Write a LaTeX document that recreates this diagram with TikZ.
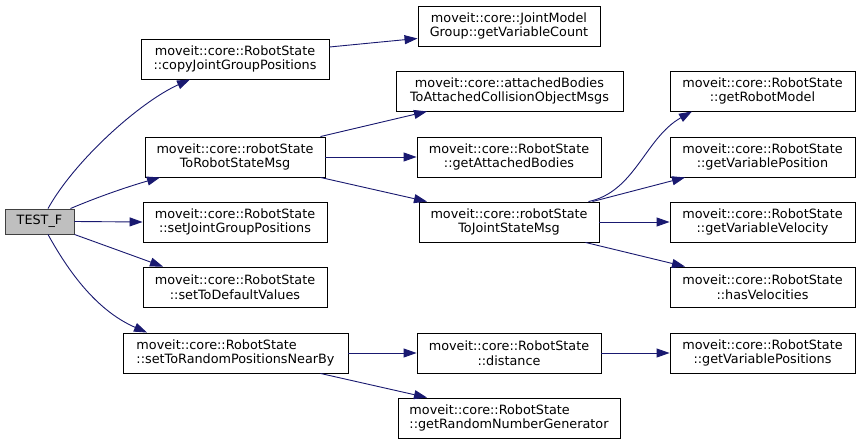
\documentclass[tikz,border=0pt]{standalone}
\usepackage{fontspec}
\setmainfont{DejaVu Sans}
\usetikzlibrary{arrows.meta}
\definecolor{edgeblue}{RGB}{25,25,112}
\definecolor{rootgray}{RGB}{191,191,191}
\begin{document}
\begin{tikzpicture}[x=1pt,y=-1pt,
  fn/.style={draw=black,line width=0.9pt,fill=white,minimum height=40pt,inner sep=0pt,align=center,
    font=\fontsize{12.8}{14.7}\selectfont},
  fnl/.style={fn,align=left},
  root/.style={fn,fill=rootgray,draw=black!75,minimum height=25pt,minimum width=69pt},
  call/.style={draw=edgeblue,line width=0.9pt,-{Triangle[length=13pt,width=9pt,fill=edgeblue]}}]
\useasboundingbox (0,0) rectangle (860,444);
\fill[white] (0,0) rectangle (860,444);

\node[root] (testf) at (39.5,221.5) {TEST\_F};
\node[fn,minimum width=188pt] (copy) at (235,59) {moveit::core::RobotState\\::copyJointGroupPositions};
\node[fn,minimum width=182pt] (jmg) at (509,26) {moveit::core::JointModel\\Group::getVariableCount};
\node[fn,minimum width=227pt] (abt) at (509.5,91) {moveit::core::attachedBodies\\ToAttachedCollisionObjectMsgs};
\node[fn,minimum width=180pt] (rsm) at (235,157) {moveit::core::robotState\\ToRobotStateMsg};
\node[fn,minimum width=184pt] (gab) at (509,157) {moveit::core::RobotState\\::getAttachedBodies};
\node[fn,minimum width=180pt] (jsm) at (509,222) {moveit::core::robotState\\ToJointStateMsg};
\node[fn,minimum width=185pt] (grm) at (762.5,91) {moveit::core::RobotState\\::getRobotModel};
\node[fn,minimum width=185pt] (gvp) at (762.5,157) {moveit::core::RobotState\\::getVariablePosition};
\node[fn,minimum width=185pt] (gvv) at (762.5,222) {moveit::core::RobotState\\::getVariableVelocity};
\node[fn,minimum width=185pt] (hv) at (762.5,287) {moveit::core::RobotState\\::hasVelocities};
\node[fn,minimum width=184pt] (sjg) at (235,222) {moveit::core::RobotState\\::setJointGroupPositions};
\node[fn,minimum width=184pt] (sdv) at (235,287) {moveit::core::RobotState\\::setToDefaultValues};
\node[fnl,minimum width=225pt] (rnd) at (235.5,353) {moveit::core::RobotState\\::setToRandomPositionsNearBy};
\node[fn,minimum width=184pt] (dist) at (509,353) {moveit::core::RobotState\\::distance};
\node[fn,minimum width=185pt] (gvps) at (762.5,353) {moveit::core::RobotState\\::getVariablePositions};
\node[fnl,minimum width=222pt] (rng) at (509,418) {moveit::core::RobotState\\::getRandomNumberGenerator};

% TEST_F calls
\draw[call] ([xshift=8.5pt]testf.north) .. controls (75,160) and (140,102) .. ([xshift=-45pt]copy.south);
\draw[call] ([xshift=-4pt]testf.north east) .. controls (100,196) and (130,186) .. ([xshift=-75pt]rsm.south);
\draw[call] (testf.east) -- (sjg.west);
\draw[call] ([xshift=0pt]testf.south east) -- ([xshift=-72pt]sdv.north);
\draw[call] ([xshift=8.5pt]testf.south) .. controls (72,278) and (100,312) .. ([xshift=-88.5pt]rnd.north);

% second level
\draw[call] ([yshift=12pt]copy.east) -- ([yshift=8pt]jmg.south west);
\draw[call] ([xshift=-5pt]rsm.north east) -- ([xshift=-82.5pt]abt.south);
\draw[call] (rsm.east) -- (gab.west);
\draw[call] ([xshift=-5pt]rsm.south east) -- ([xshift=-82pt]jsm.north);
\draw[call] ([xshift=-11pt]jsm.north east) .. controls (635,192) and (645,138) .. ([xshift=-70.5pt]grm.south);
\draw[call] ([xshift=-7pt]jsm.north east) -- ([xshift=-77.5pt]gvp.south);
\draw[call] (jsm.east) -- (gvv.west);
\draw[call] ([xshift=-14pt]jsm.south east) -- ([xshift=-77.5pt]hv.north);
\draw[call] (rnd.east) -- (dist.west);
\draw[call] ([xshift=-28pt]rnd.south east) -- ([xshift=-82pt]rng.north);
\draw[call] (dist.east) -- (gvps.west);
\end{tikzpicture}
\end{document}
